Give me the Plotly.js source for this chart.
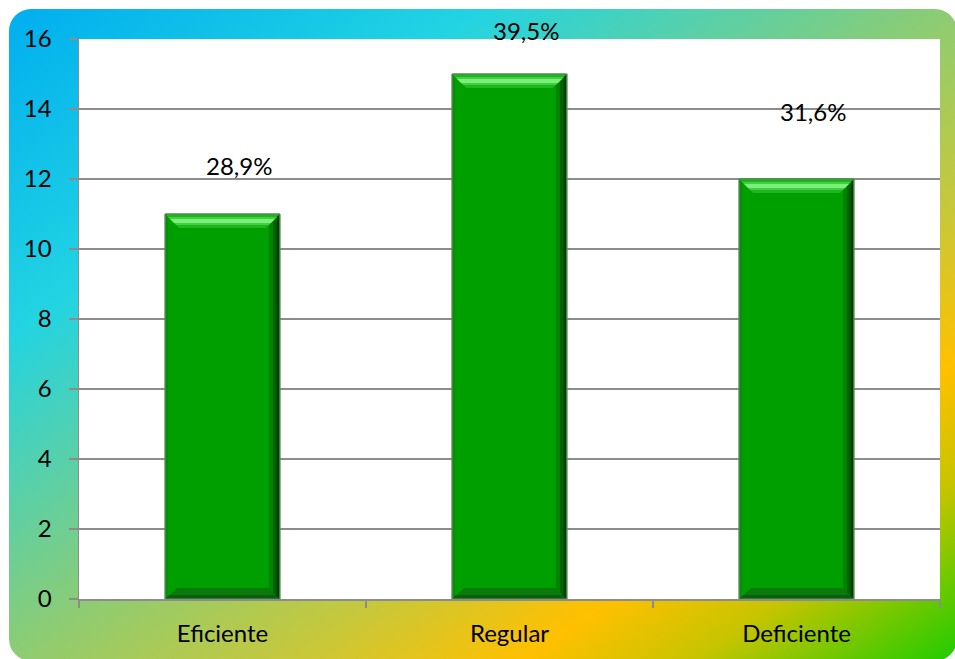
<!DOCTYPE html>
<html>
<head>
<meta charset="utf-8">
<script src="https://cdn.plot.ly/plotly-3.0.1.min.js"></script>
<style>
  html, body { margin: 0; padding: 0; background: #ffffff; width: 955px; height: 659px; overflow: hidden; }
  #bg {
    position: absolute; left: 9px; top: 9px; width: 948px; height: 652px;
    border-radius: 22px;
    background: linear-gradient(to bottom right,
      #00aeef 0%, #22d4e2 25%, #8ecc72 50%, #c8c83a 65%, #ffc000 77%, #c8c400 86%, #1ecc00 100%);
  }
  #chart { position: absolute; left: 0; top: 0; width: 955px; height: 659px; }
</style>
</head>
<body>
<div id="bg"></div>
<div id="chart"></div>
<script>
// ---- data ----
var categories = ["Eficiente", "Regular", "Deficiente"];
var counts = [11, 15, 12];
var percentLabels = ["28,9%", "39,5%", "31,6%"];
var labelY = [12.4, 16.23, 13.94];   // label heights (in axis units) as placed in the source
var yTicks = [0, 2, 4, 6, 8, 10, 12, 14, 16];

// ---- layout constants ----
var W = 955, H = 659;
var margin = {l: 79, r: 15, t: 39, b: 60};
var barWidth = 0.4;
var yMax = 16;
var plotW = W - margin.l - margin.r;
var barPx = barWidth * plotW / categories.length;
var hw = barPx / 2;

var FONT = "Lato, 'Open Sans', sans-serif";

var trace = {
  type: "bar",
  x: categories,
  y: counts,
  width: barWidth,
  marker: { color: "#009f00", line: { color: "#5a8f5a", width: 1 } },
  hoverinfo: "skip",
  showlegend: false
};

// bevel decorations attached to each bar
var shapes = [];
counts.forEach(function(v, i){
  // right dark edge (gradient-like)
  shapes.push({type: "rect", xref: "x", yref: "y", xsizemode: "pixel", xanchor: i,
    x0: hw - 11, x1: hw - 7, y0: 0, y1: v, fillcolor: "#008400", line: {width: 0}});
  shapes.push({type: "rect", xref: "x", yref: "y", xsizemode: "pixel", xanchor: i,
    x0: hw - 7, x1: hw - 3.5, y0: 0, y1: v, fillcolor: "#006200", line: {width: 0}});
  shapes.push({type: "rect", xref: "x", yref: "y", xsizemode: "pixel", xanchor: i,
    x0: hw - 3.5, x1: hw - 0.5, y0: 0, y1: v, fillcolor: "#033c03", line: {width: 0}});
  // left subtle edge
  shapes.push({type: "rect", xref: "x", yref: "y", xsizemode: "pixel", xanchor: i,
    x0: -hw + 0.5, x1: -hw + 3, y0: 0, y1: v, fillcolor: "#0a8c0a", line: {width: 0}});
  // top bevel
  shapes.push({type: "path", xref: "x", yref: "y", xsizemode: "pixel", ysizemode: "pixel",
    xanchor: i, yanchor: v,
    path: "M" + (-hw) + ",0 L" + hw + ",0 L" + (hw - 14) + ",-14 L" + (-hw + 14) + ",-14 Z",
    fillcolor: "#1fb51f", line: {width: 0}});
  shapes.push({type: "path", xref: "x", yref: "y", xsizemode: "pixel", ysizemode: "pixel",
    xanchor: i, yanchor: v,
    path: "M" + (-hw + 3) + ",-3 L" + (hw - 3) + ",-3 L" + (hw - 11) + ",-11 L" + (-hw + 11) + ",-11 Z",
    fillcolor: "#3fcf3f", line: {width: 0}});
  shapes.push({type: "path", xref: "x", yref: "y", xsizemode: "pixel", ysizemode: "pixel",
    xanchor: i, yanchor: v,
    path: "M" + (-hw + 5) + ",-5 L" + (hw - 5) + ",-5 L" + (hw - 9) + ",-9 L" + (-hw + 9) + ",-9 Z",
    fillcolor: "#7cee7c", line: {width: 0}});
  // bottom bevel
  shapes.push({type: "path", xref: "x", yref: "y", xsizemode: "pixel", ysizemode: "pixel",
    xanchor: i, yanchor: 0,
    path: "M" + (-hw + 0.5) + ",0.5 L" + (hw - 0.5) + ",0.5 L" + (hw - 12) + ",11 L" + (-hw + 12) + ",11 Z",
    fillcolor: "#0a7a0a", line: {width: 0}});
  shapes.push({type: "path", xref: "x", yref: "y", xsizemode: "pixel", ysizemode: "pixel",
    xanchor: i, yanchor: 0,
    path: "M" + (-hw + 0.5) + ",0.5 L" + (hw - 0.5) + ",0.5 L" + (hw - 4) + ",4 L" + (-hw + 4) + ",4 Z",
    fillcolor: "#0b5e0b", line: {width: 0}});
  // outline on top
  shapes.push({type: "rect", xref: "x", yref: "y", xsizemode: "pixel", xanchor: i,
    x0: -hw, x1: hw, y0: 0, y1: v, line: {color: "#4f874f", width: 1}});
});

var annotations = percentLabels.map(function(t, i){
  return { x: categories[i], y: labelY[i] / yMax, xref: "x", yref: "paper", text: t, showarrow: false,
    xshift: 16, yanchor: "middle", font: { family: FONT, size: 24, color: "#000000" } };
});

var layout = {
  width: W, height: H,
  margin: margin,
  paper_bgcolor: "rgba(0,0,0,0)",
  plot_bgcolor: "#ffffff",
  font: { family: FONT, size: 24, color: "#000000" },
  xaxis: {
    type: "category",
    range: [-0.5, categories.length - 0.5],
    showgrid: false, zeroline: false,
    showline: true, linecolor: "#8c8c8c", linewidth: 1.5,
    ticks: "outside", ticklen: 7, tickcolor: "#8c8c8c", tickwidth: 1.5,
    tickson: "boundaries",
    ticklabelstandoff: 13,
    tickfont: { family: FONT, size: 24, color: "#000000" },
    fixedrange: true
  },
  yaxis: {
    range: [0, yMax],
    tickmode: "array", tickvals: yTicks,
    showgrid: true, gridcolor: "#8c8c8c", gridwidth: 1.5,
    zeroline: false,
    showline: true, linecolor: "#8c8c8c", linewidth: 1.5,
    ticks: "outside", ticklen: 9, tickcolor: "#8c8c8c", tickwidth: 1.5,
    ticklabelstandoff: 12,
    tickfont: { family: FONT, size: 24, color: "#000000" },
    fixedrange: true
  },
  shapes: shapes,
  annotations: annotations
};

Plotly.newPlot("chart", [trace], layout, { displayModeBar: false, staticPlot: true });
</script>
</body>
</html>
